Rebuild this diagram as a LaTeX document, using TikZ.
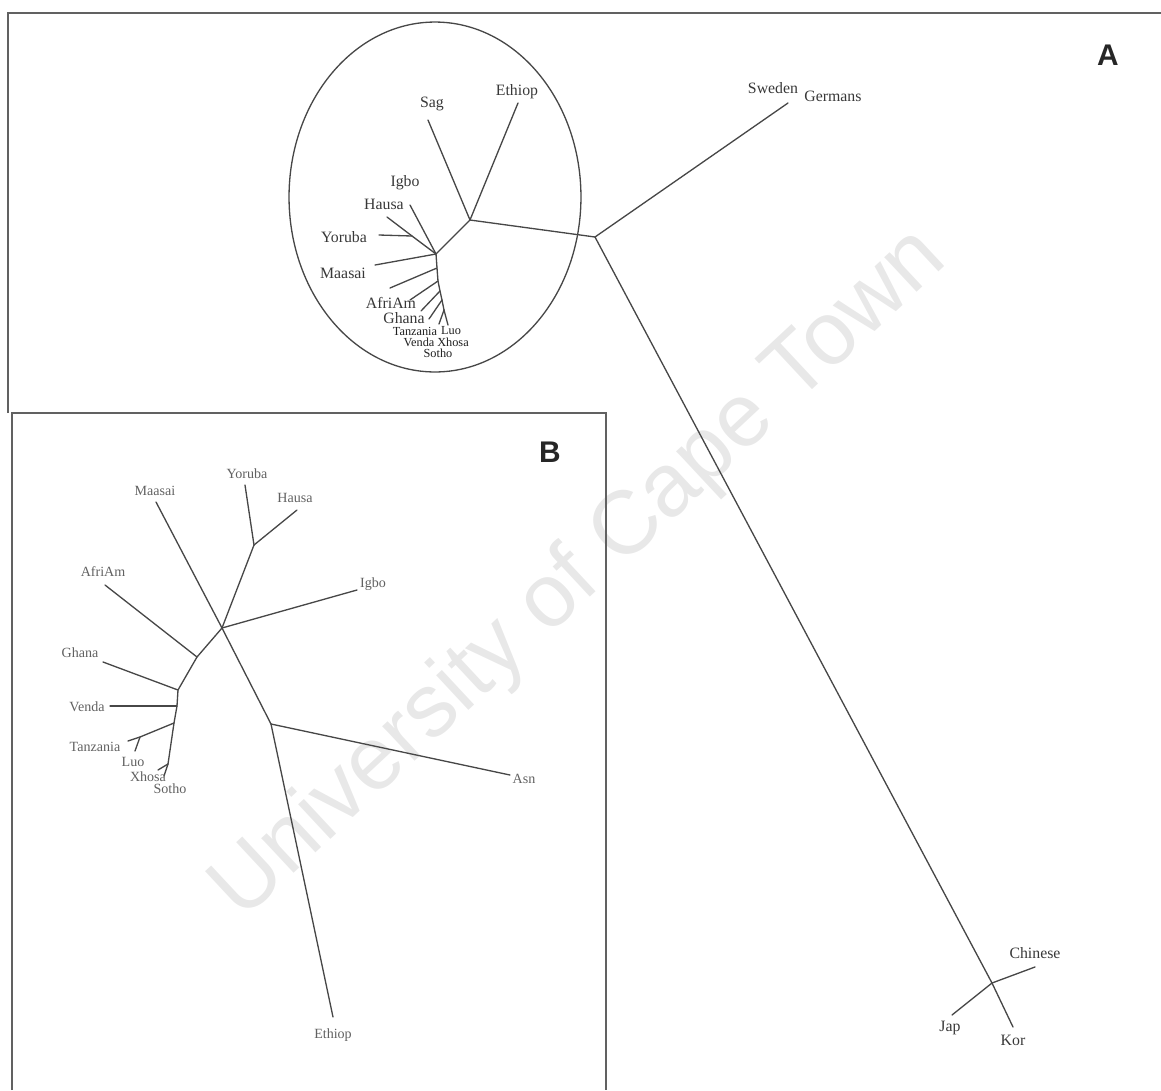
\documentclass[tikz,border=0pt]{standalone}
\usepackage{fontspec}
\setmainfont{Liberation Serif}
\newfontfamily\sansfont{Liberation Sans}
\begin{document}
\begin{tikzpicture}[x=0.02cm,y=-0.02cm,
  branch/.style={draw=black!72, line width=0.75pt, line cap=round, line join=round},
  framing/.style={draw=black!62, line width=1.1pt},
  lblA/.style={font=\fontsize{9}{9}\selectfont, text=black!78, inner sep=0pt},
  lblAs/.style={font=\fontsize{7}{7}\selectfont, text=black!88, inner sep=0pt},
  lblB/.style={font=\fontsize{8}{8}\selectfont, text=black!62, inner sep=0pt},
  panel/.style={font=\sansfont\bfseries\fontsize{17}{17}\selectfont, text=black!85, inner sep=0pt},
  watermark/.style={font=\sansfont\fontsize{51}{51}\selectfont, text=black!9, rotate=43, inner sep=0pt}
]
\useasboundingbox (0,0) rectangle (1161,1090);

% watermark behind everything
\node[watermark] (wm) at (580,575) {University of Cape Town};

% panel frames
\draw[framing] (8,413) -- (8,13) -- (1161,13);
\draw[framing] (12,1090) -- (12,413) -- (606,413) -- (606,1090);
\node[panel] (pA) at (1108,55) {A};
\node[panel] (pB) at (550,452) {B};

% ---------- tree A ----------
\draw[branch] (435,197) ellipse [x radius=2.92cm, y radius=3.5cm];

\coordinate (aM)  at (595,237);
\coordinate (aN1) at (470,220);
\coordinate (aN2) at (436,254);
\coordinate (aHY) at (412,236);
\coordinate (aS1) at (437,268);
\coordinate (aS2) at (438,281);
\coordinate (aS3) at (440,291);
\coordinate (aS4) at (442,300);
\coordinate (aS5) at (444,310);
\coordinate (aAs) at (992,983);

\coordinate (aSag)    at (428,120);
\coordinate (aEthiop) at (518,103);
\coordinate (aIgbo)   at (410,205);
\coordinate (aHausa)  at (387,217);
\coordinate (aYoruba) at (379,235);
\coordinate (aMaasai) at (375,265);
\coordinate (aAfriAm) at (390,288);
\coordinate (aGhana)  at (410,300);
\coordinate (aVenda)  at (421,311);
\coordinate (aTanz)   at (429,319);
\coordinate (aLuo)    at (439,324);
\coordinate (aXhosa)  at (448,325);
\coordinate (aSweden) at (788,103);
\coordinate (aChin)   at (1035,967);
\coordinate (aJap)    at (952,1015);
\coordinate (aKor)    at (1013,1027);

\draw[branch] (aM) -- (aN1);
\draw[branch] (aM) -- (aSweden);
\draw[branch] (aM) -- (aAs);
\draw[branch] (aAs) -- (aChin);
\draw[branch] (aAs) -- (aJap);
\draw[branch] (aAs) -- (aKor);
\draw[branch] (aN1) -- (aSag);
\draw[branch] (aN1) -- (aEthiop);
\draw[branch] (aN1) -- (aN2);
\draw[branch] (aN2) -- (aIgbo);
\draw[branch] (aN2) -- (aHY) -- (aHausa);
\draw[branch] (aHY) -- (aYoruba);
\draw[branch] (aN2) -- (aMaasai);
\draw[branch] (aN2) -- (aS1) -- (aS2) -- (aS3) -- (aS4) -- (aS5);
\draw[branch] (aS1) -- (aAfriAm);
\draw[branch] (aS2) -- (aGhana);
\draw[branch] (aS3) -- (aVenda);
\draw[branch] (aS4) -- (aTanz);
\draw[branch] (aS5) -- (aLuo);
\draw[branch] (aS5) -- (aXhosa);

\node[lblA] (tSag)    at (432,104) {Sag};
\node[lblA] (tEthiop) at (517,92)  {Ethiop};
\node[lblA] (tIgbo)   at (405,183) {Igbo};
\node[lblA] (tHausa)  at (384,204) {Hausa};
\node[lblA] (tYoruba) at (344,237) {Yoruba};
\node[lblA] (tMaasai) at (343,273) {Maasai};
\node[lblA] (tAfriAm) at (391,303) {AfriAm};
\node[lblA] (tGhana)  at (404,318) {Ghana};
% tightly packed southern labels
\node[lblAs] (tTanz)   at (415,331) {Tanzania};
\node[lblAs] (tLuo)    at (451,331) {Luo};
\node[lblAs] (tVenda)  at (419,342) {Venda};
\node[lblAs] (tXhosa)  at (453,342) {Xhosa};
\node[lblAs] (tSotho)  at (438,353) {Sotho};
\node[lblA] (tSweden) at (773,88)  {Sweden};
\node[lblA] (tGerm)   at (833,96)  {Germans};
\node[lblA] (tChin)   at (1035,953) {Chinese};
\node[lblA] (tJap)    at (950,1028) {Jap};
\node[lblA] (tKor)    at (1013,1040) {Kor};

% ---------- tree B ----------
\coordinate (bJ1) at (222,628);
\coordinate (bJ2) at (197,657);
\coordinate (bJ3) at (271,724);
\coordinate (bYH) at (254,545);
\coordinate (bG)  at (178,690);
\coordinate (bV)  at (177,706);
\coordinate (bT)  at (174,723);
\coordinate (bTL) at (140,737);
\coordinate (bE)  at (168,764);

\coordinate (bMaasai) at (156,502);
\coordinate (bYoruba) at (245,485);
\coordinate (bHausa)  at (297,510);
\coordinate (bIgbo)   at (357,590);
\coordinate (bAfriAm) at (105,585);
\coordinate (bGhana)  at (103,662);
\coordinate (bVenda)  at (110,706);
\coordinate (bTanz)   at (128,741);
\coordinate (bLuo)    at (135,751);
\coordinate (bXhosa)  at (158,770);
\coordinate (bSotho)  at (164,776);
\coordinate (bAsn)    at (510,775);
\coordinate (bEthiop) at (333,1017);

\draw[branch] (bJ1) -- (bMaasai);
\draw[branch] (bJ1) -- (bYH);
\draw[branch] (bYH) -- (bYoruba);
\draw[branch] (bYH) -- (bHausa);
\draw[branch] (bJ1) -- (bIgbo);
\draw[branch] (bJ1) -- (bJ2);
\draw[branch] (bJ1) -- (bJ3);
\draw[branch] (bJ3) -- (bAsn);
\draw[branch] (bJ3) -- (bEthiop);
\draw[branch] (bJ2) -- (bAfriAm);
\draw[branch] (bJ2) -- (bG) -- (bV) -- (bT) -- (bE);
\draw[branch] (bG) -- (bGhana);
\draw[branch] (bV) -- (bVenda);
\draw[branch] (bT) -- (bTL) -- (bTanz);
\draw[branch] (bTL) -- (bLuo);
\draw[branch] (bE) -- (bXhosa);
\draw[branch] (bE) -- (bSotho);

\node[lblB] (sMaasai) at (155,491) {Maasai};
\node[lblB] (sYoruba) at (247,474) {Yoruba};
\node[lblB] (sHausa)  at (295,498) {Hausa};
\node[lblB] (sIgbo)   at (373,584) {Igbo};
\node[lblB] (sAfriAm) at (103,572) {AfriAm};
\node[lblB] (sGhana)  at (80,653)  {Ghana};
\node[lblB] (sVenda)  at (87,707)  {Venda};
\node[lblB] (sTanz)   at (95,747)  {Tanzania};
\node[lblB] (sLuo)    at (133,762) {Luo};
\node[lblB] (sXhosa)  at (148,777) {Xhosa};
\node[lblB] (sSotho)  at (170,789) {Sotho};
\node[lblB] (sAsn)    at (524,779) {Asn};
\node[lblB] (sEthiop) at (333,1035) {Ethiop};
\end{tikzpicture}
\end{document}
